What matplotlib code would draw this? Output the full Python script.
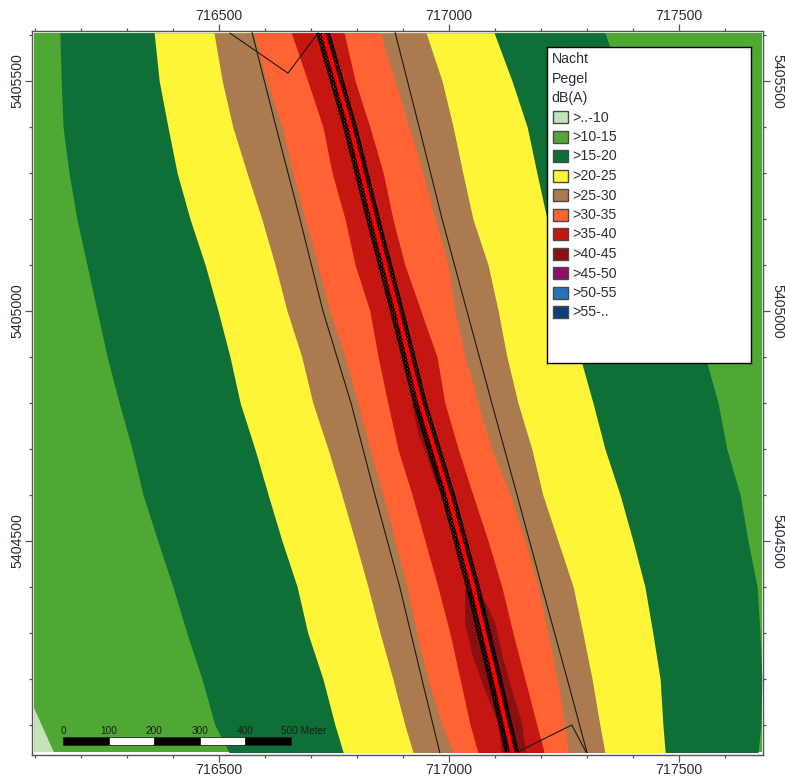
import numpy as np
import matplotlib
matplotlib.use('Agg')
import matplotlib.pyplot as plt
from matplotlib.patches import Rectangle
from matplotlib.ticker import FormatStrFormatter

plt.rcParams['font.family'] = ['Liberation Sans', 'DejaVu Sans']
plt.rcParams['hatch.linewidth'] = 0.9

# rows of the contour readings (northing), all band edges are eastings on these rows
row_y = [5405605, 5405500, 5405400, 5405300, 5405200, 5405100, 5405000, 5404900, 5404800,
         5404700, 5404600, 5404500, 5404400, 5404300, 5404200, 5404100, 5404040]

edge_10_15_left = [716154, 716157, 716161, 716174, 716191, 716213, 716235, 716257, 716283,
                   716311, 716335, 716367, 716400, 716430, 716463, 716491, 716522]
edge_15_20_left = [716359, 716370, 716389, 716409, 716437, 716470, 716498, 716524, 716546,
                   716578, 716607, 716637, 716670, 716693, 716726, 716752, 716770]
edge_20_25_left = [716489, 716507, 716530, 716561, 716593, 716622, 716648, 716680, 716704,
                   716737, 716767, 716796, 716824, 716850, 716878, 716904, 716922]
edge_25_30_left = [716576, 716604, 716637, 716661, 716687, 716715, 716741, 716774, 716802,
                   716828, 716857, 716883, 716909, 716930, 716954, 716985, 717009]
edge_30_35_left = [716657, 716693, 716726, 716746, 716774, 716796, 716828, 716846, 716867,
                   716889, 716920, 716948, 716976, 717002, 717024, 717046, 717063]
edge_30_35_right = [716772, 716796, 716828, 716857, 716878, 716904, 716939, 716974, 716991,
                    717020, 717052, 717085, 717115, 717139, 717165, 717191, 717207]
edge_25_30_right = [716850, 716883, 716913, 716943, 716970, 716998, 717013, 717035, 717063,
                    717093, 717133, 717165, 717194, 717215, 717235, 717252, 717259]
edge_20_25_right = [716950, 716985, 717009, 717030, 717052, 717085, 717107, 717126, 717150,
                    717180, 717204, 717237, 717270, 717291, 717311, 717328, 717339]
edge_15_20_right = [717098, 717137, 717170, 717191, 717213, 717235, 717259, 717285, 717313,
                    717339, 717372, 717400, 717426, 717443, 717459, 717465, 717470]
edge_10_15_right = [717339, 717376, 717415, 717448, 717476, 717502, 717528, 717557, 717585,
                    717604, 717633, 717650, 717670, 717676, 717680, 717678, 717672]

# road and the two thin lines, read on a coarser set of rows
line_y = [5405605, 5405400, 5405200, 5405000, 5404800, 5404600, 5404400, 5404200, 5404040]
road_x = [716726, 716785, 716835, 716887, 716937, 716998, 717052, 717100, 717137]
line_left_x = [716572, 716624, 716676, 716726, 716787, 716839, 716893, 716941, 716980]
line_right_x = [716883, 716935, 716985, 717039, 717093, 717148, 717202, 717257, 717300]

kink_top_x = [716524, 716650, 716715]
kink_top_y = [5405604, 5405517, 5405604]
kink_bottom_x = [717148, 717267, 717298]
kink_bottom_y = [5404041, 5404100, 5404041]

corner_x = [716098, 716098, 716141]
corner_y = [5404041, 5404137, 5404041]

patch_upper_x = [716920, 716933, 716952, 716972, 716989, 716937]
patch_upper_y = [5404796, 5404735, 5404683, 5404626, 5404626, 5404796]
patch_lower_x = [717035, 717035, 717052, 717078, 717107, 717115, 717167, 717159, 717137, 717117, 717100, 717085, 717061]
patch_lower_y = [5404393, 5404322, 5404248, 5404176, 5404104, 5404041, 5404041, 5404104, 5404176, 5404248, 5404322, 5404357, 5404393]

legend_title = ['Nacht', 'Pegel', 'dB(A)']
legend_labels = ['>..-10', '>10-15', '>15-20', '>20-25', '>25-30', '>30-35',
                 '>35-40', '>40-45', '>45-50', '>50-55', '>55-..']
legend_colors = ['#C2E4B8', '#4FA833', '#0E7036', '#FFF538', '#AB7B4F', '#FF6233',
                 '#C51611', '#8C0F12', '#8E0F68', '#2A72B8', '#0B3F78']

scale_values = [0, 100, 200, 300, 400, 500]
scale_labels = ['0', '100', '200', '300', '400', '500 Meter']

x_major = [716500, 717000, 717500]
y_major = [5404500, 5405000, 5405500]
x_minor = np.arange(716100, 717700, 100)
y_minor = np.arange(5404100, 5405700, 100)

text_c = '#26303c'
row_y = np.array(row_y)
line_y = np.array(line_y)
road_x = np.array(road_x)

fig = plt.figure(figsize=(7.85, 7.76), dpi=100)
ax = fig.add_axes([32 / 785, 21 / 776, 731 / 785, 724 / 776])
ax.set_xlim(716093.5, 717682.6)
ax.set_ylim(5404034.8, 5405608.7)

# map area stops a little short of the frame
clip = Rectangle((716098, 5404041), 1582, 1563, fc=legend_colors[1], ec='none', zorder=1)
ax.add_patch(clip)


def band(left, right, color, z):
    p = ax.fill_betweenx(row_y, left, right, color=color, lw=0, zorder=z)
    p.set_clip_path(clip)


band(edge_10_15_left, edge_10_15_right, legend_colors[2], 2)
band(edge_15_20_left, edge_15_20_right, legend_colors[3], 3)
band(edge_20_25_left, edge_20_25_right, legend_colors[4], 4)
band(edge_25_30_left, edge_25_30_right, legend_colors[5], 5)
band(edge_30_35_left, edge_30_35_right, legend_colors[6], 6)
ax.fill(corner_x, corner_y, color=legend_colors[0], lw=0, zorder=2)
ax.fill(patch_upper_x, patch_upper_y, color=legend_colors[7], lw=0, zorder=7)
ax.fill(patch_lower_x, patch_lower_y, color=legend_colors[7], lw=0, zorder=7)

# thin lines
ax.plot(line_left_x, line_y, c='#1a1a1a', lw=0.8, zorder=8)
ax.plot(line_right_x, line_y, c='#1a1a1a', lw=0.8, zorder=8)
ax.plot(kink_top_x, kink_top_y, c='#1a1a1a', lw=0.8, zorder=8)
ax.plot(kink_bottom_x, kink_bottom_y, c='#1a1a1a', lw=0.8, zorder=8)

# road, hatched lanes and red middle
road = ax.fill_betweenx(line_y, road_x - 14, road_x + 14, facecolor='none', edgecolor='black',
                        hatch='xxxxxxxxx', lw=0.8, zorder=9)
road.set_clip_path(clip)
mid = ax.fill_betweenx(line_y, road_x - 4.5, road_x + 4.5, color='#FF0000', lw=0, zorder=10)
mid.set_clip_path(clip)

# scale bar, drawn a hair short of true metres like the original
bar_x0 = 716161
bar_k = 0.99
for i in range(5):
    c = 'black' if i % 2 == 0 else 'white'
    ax.add_patch(Rectangle((bar_x0 + scale_values[i] * bar_k, 5404056),
                           (scale_values[i + 1] - scale_values[i]) * bar_k, 18,
                           fc=c, ec='#222222', lw=0.6, zorder=11))
for v, s in zip(scale_values, scale_labels):
    if s.endswith('Meter'):
        ax.text(bar_x0 + v * bar_k - 22, 5404088, s, fontsize=7.2, color='#1c1c1c', ha='left', va='center', zorder=11)
    else:
        ax.text(bar_x0 + v * bar_k, 5404088, s, fontsize=7.2, color='#1c1c1c', ha='center', va='center', zorder=11)

# frame and ticks
ax.set_xticks(x_major)
ax.set_yticks(y_major)
ax.set_xticks(x_minor, minor=True)
ax.set_yticks(y_minor, minor=True)
ax.tick_params(which='major', length=4.7, width=0.9, color='#555555', top=True, right=True,
               labeltop=True, labelright=True, labelsize=10.2, labelcolor=text_c, pad=1)
ax.tick_params(which='minor', length=2.5, width=0.9, color='#555555', top=True, right=True)
ax.xaxis.set_major_formatter(FormatStrFormatter('%d'))
ax.yaxis.set_major_formatter(FormatStrFormatter('%d'))
for t in ax.yaxis.get_major_ticks():
    t.label1.set_rotation(90)
    t.label1.set_va('center')
    t.label2.set_rotation(270)
    t.label2.set_va('center')
for s in ax.spines.values():
    s.set_color('#555555')
    s.set_linewidth(1.0)

# legend box
lax = fig.add_axes([547 / 785, (776 - 363) / 776, 204 / 785, 316 / 776], zorder=20)
lax.set_xlim(0, 204)
lax.set_ylim(316, 0)
lax.set_xticks([])
lax.set_yticks([])
for s in lax.spines.values():
    s.set_linewidth(1.0)
    s.set_color('black')
for i, s in enumerate(legend_title):
    lax.text(4.5, 12 + i * 19.5, s, fontsize=10.2, color=text_c, va='center')
for i, (s, c) in enumerate(zip(legend_labels, legend_colors)):
    y = 70 + i * 19.5
    lax.add_patch(Rectangle((5.5, y - 6), 15, 12, fc=c, ec='#4a4a4a', lw=1.0))
    lax.text(25, y + 0.5, s, fontsize=10.2, color=text_c, va='center')

fig.savefig('out.png', dpi=100)
